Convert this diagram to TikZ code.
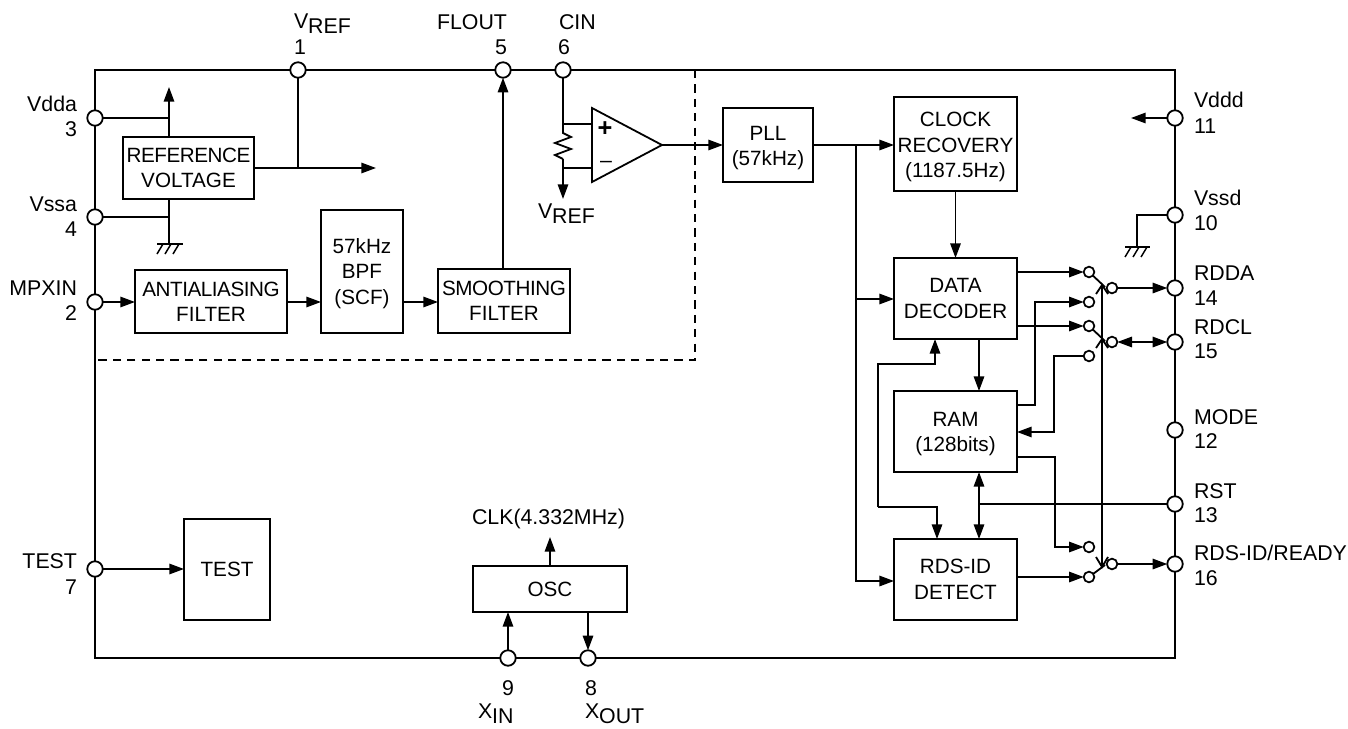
\documentclass[tikz,border=0pt]{standalone}
\usepackage{fontspec}
\setmainfont{Liberation Sans}
\usetikzlibrary{arrows.meta}
\newcommand{\lowered}[1]{\raisebox{-3.9pt}{#1}}
\newcommand{\tight}[1]{{\addfontfeature{LetterSpace=-2.2}#1}}
\newcommand{\lift}[1]{\rule{0pt}{#1}}
\tikzset{
  x=0.75pt,y=-0.75pt,
  every node/.style={font=\fontsize{16}{19}\selectfont,inner sep=0pt,outer sep=0pt},
  wire/.style={line width=1.35pt,line join=miter},
  to/.style={wire,-{Triangle[length=11pt,width=7.8pt]}},
  tofro/.style={wire,{Triangle[length=11pt,width=7.8pt]}-{Triangle[length=11pt,width=7.8pt]}},
  blk/.style={draw,line width=1.5pt,align=center,font=\fontsize{15.5}{19}\selectfont},
  pin/.style={circle,draw,fill=white,line width=1.35pt,minimum size=11.6pt},
  contact/.style={circle,draw,fill=white,line width=1.3pt,minimum size=8pt},
  lblw/.style={anchor=base west},
  lble/.style={anchor=base east},
}
\newcommand{\bx}[6]{\node[blk,minimum width={(#4-#2)*0.75pt},minimum height={(#5-#3)*0.75pt}] (#1) at ({(#2+#4)/2},{(#3+#5)/2}) {#6};}
\begin{document}
\begin{tikzpicture}
\useasboundingbox (0,0) rectangle (1348,728);
% frame
\bx{frame}{95}{70}{1175}{658}{}
% dashed region
\coordinate (dtop) at (695,70);
\coordinate (dcorner) at (695,360);
\coordinate (dleft) at (95,360);
\draw[line width=1.5pt,dash pattern=on 6.2pt off 4.6pt] (dtop) -- (dcorner) -- (dleft);
% blocks
\bx{ref}{123}{137}{254}{199}{\tight{REFERENCE}\\VOLTAGE}
\bx{anti}{135}{270}{287}{333}{\tight{ANTIALIASING}\\FILTER}
\bx{bpf}{321}{210}{403}{333}{\lift{14.1pt}57kHz\\BPF\\(SCF)}
\bx{smooth}{438}{269}{570}{333}{\tight{SMOOTHING}\\FILTER}
\bx{pll}{723}{108}{813}{182}{\lift{15.6pt}PLL\\(57kHz)}
\bx{clock}{894}{97}{1017}{191}{\lift{15.6pt}CLOCK\\RECOVERY\\(1187.5Hz)}
\bx{dec}{894}{258}{1017}{339}{DATA\\DECODER}
\bx{ram}{894}{391}{1017}{472}{\lift{14.1pt}RAM\\(128bits)}
\bx{rds}{894}{539}{1017}{620}{RDS-ID\\DETECT}
\bx{test}{184}{519}{270}{620}{TEST}
\bx{osc}{473}{566}{627}{612}{OSC}
% pins
\node[pin] (p1) at (298,70) {};
\node[pin] (p5) at (503,70) {};
\node[pin] (p6) at (563,70) {};
\node[pin] (p3) at (95,118) {};
\node[pin] (p4) at (95,217) {};
\node[pin] (p2) at (95,302) {};
\node[pin] (p7) at (95,569) {};
\node[pin] (p9) at (508,658) {};
\node[pin] (p8) at (588,658) {};
\node[pin] (p11) at (1175,118) {};
\node[pin] (p10) at (1175,215) {};
\node[pin] (p14) at (1175,288) {};
\node[pin] (p15) at (1175,342) {};
\node[pin] (p12) at (1175,430) {};
\node[pin] (p13) at (1175,504) {};
\node[pin] (p16) at (1175,564) {};
% switch contacts
\node[contact] (c1) at (1089,272) {};
\node[contact] (c2) at (1089,302) {};
\node[contact] (c3) at (1089,326) {};
\node[contact] (c4) at (1089,356) {};
\node[contact] (c5) at (1089,547) {};
\node[contact] (c6) at (1089,577) {};
\node[contact] (s1) at (1112,288) {};
\node[contact] (s2) at (1112,342) {};
\node[contact] (s3) at (1112,564) {};
% left analog connectors
\coordinate (vup) at (169,87);
\coordinate (gnd1) at (169,244);
\coordinate (refout) at (376,168);
\draw[to] (ref.north -| vup) -- (vup);
\draw[wire] (p3) -- (vup |- p3);
\draw[wire] (ref.south -| gnd1) -- (gnd1);
\draw[wire] (p4) -- (gnd1 |- p4);
\draw[wire] (157,244) -- (183,244);
\draw[wire,line width=1.1pt] (163,244) -- (157,254) (171,244) -- (165,254) (179,244) -- (173,254);
\draw[to] (ref.east |- refout) -- (refout);
\draw[wire] (p1) -- (p1 |- refout);
\draw[to] (p2) -- (anti.west |- p2);
\draw[to] (anti.east |- 0,302) -- (bpf.west |- 0,302);
\draw[to] (bpf.east |- 0,302) -- (smooth.west |- 0,302);
\draw[to] (smooth.north -| p5) -- (p5);
% op amp
\coordinate (oa) at (592,108);
\coordinate (ob) at (592,182);
\coordinate (oc) at (662,145);
\coordinate (vrefin) at (563,199);
\draw[wire] (oa) -- (ob) -- (oc) -- cycle;
\draw[wire] (p6) -- (563,133) -- (571,137) -- (555,143) -- (571,149) -- (555,155) -- (563,159);
\draw[to] (563,159) -- (vrefin);
\draw[wire] (563,124) -- (oa |- 0,124);
\draw[wire] (563,168) -- (oa |- 0,168);
\node[font=\fontsize{19}{19}\selectfont\bfseries] (plus) at (605,129) {+};
\node[font=\fontsize{16}{19}\selectfont] (minus) at (606,164) {–};
\draw[to] (oc) -- (pll.west |- oc);
% digital connectors
\draw[to] (pll.east |- oc) -- (clock.west |- oc);
\draw[to] (856,145) -- (856,299) -- (dec.west |- 0,299);
\draw[to] (856,299) -- (856,581) -- (rds.west |- 0,581);
\draw[to] (clock.south) -- (dec.north);
\draw[to] (979,339) -- (979,391);
\draw[tofro] (979,472) -- (979,539);
\draw[wire] (p13) -- (979,504);
\draw[to] (878,507) -- (937,507) -- (937,539);
\draw[to] (878,507) -- (878,364) -- (935,364) -- (935,339);
\draw[to] (dec.east |- c1) -- (c1);
\draw[to] (dec.east |- c3) -- (c3);
\draw[to] (ram.east |- 0,405) -- (1035,405) -- (1035,302) -- (c2);
\draw[to] (c4) -- (1054,356) -- (1054,432) -- (ram.east |- 0,432);
\draw[to] (ram.east |- 0,457) -- (1055,457) -- (1055,547) -- (c5);
\draw[to] (rds.east |- c6) -- (c6);
\draw[to] (s1) -- (p14);
\draw[tofro] (s2) -- (p15);
\draw[to] (s3) -- (p16);
\draw[to] (p11) -- (1131,118);
\draw[wire] (p10) -- (1137,215) -- (1137,247);
\draw[wire] (1125,247) -- (1150,247);
\draw[wire,line width=1.1pt] (1131,247) -- (1125,257) (1139,247) -- (1133,257) (1147,247) -- (1141,257);
\draw[to] (p7) -- (test.west |- p7);
\draw[to] (p9) -- (osc.south -| p9);
\draw[to] (osc.south -| p8) -- (p8);
\draw[to] (osc.north -| 550,0) -- (550,537);
% switches
\draw[wire] (c1) -- (1105,287);
\draw[wire] (c3) -- (1105,341);
\draw[wire] (c6) -- (1105,565);
\draw[wire] (1102,285) -- (1102,567);
\draw[wire] (1096,294) -- (1102,285) -- (1108,294);
\draw[wire] (1096,348) -- (1102,339) -- (1108,348);
\draw[wire] (1096,557) -- (1102,567) -- (1108,557);
% labels
\node[lblw] (lv1) at (294,28) {V\lowered{REF}};
\node[lblw] (l1) at (294,54) {1};
\node[lble] (lf) at (507,29) {FLOUT};
\node[lble] (l5) at (507,54) {5};
\node[lblw] (lc) at (559,29) {CIN};
\node[lblw] (l6) at (558,54) {6};
\node[lblw] (lv2) at (538,218) {V\lowered{REF}};
\node[lble] (lvdda) at (77,111) {Vdda};
\node[lble] (l3) at (77,136) {3};
\node[lble] (lvssa) at (77,211) {Vssa};
\node[lble] (l4) at (77,236) {4};
\node[lble] (lmpx) at (77,295) {MPXIN};
\node[lble] (l2) at (77,320) {2};
\node[lble] (ltest) at (77,568) {TEST};
\node[lble] (l7) at (77,594) {7};
\node[lblw] (l9) at (502,695) {9};
\node[lblw] (l8) at (585,695) {8};
\node[lblw] (lxin) at (478,718) {X\lowered{IN}};
\node[lblw] (lxout) at (585,718) {X\lowered{OUT}};
\node[lblw] (lclk) at (472,524) {CLK(4.332MHz)};
\node[lblw] (lvddd) at (1194,107) {Vddd};
\node[lblw] (l11) at (1194,133) {11};
\node[lblw] (lvssd) at (1194,205) {Vssd};
\node[lblw] (l10) at (1194,230) {10};
\node[lblw] (lrdda) at (1194,280) {RDDA};
\node[lblw] (l14) at (1194,305) {14};
\node[lblw] (lrdcl) at (1194,334) {RDCL};
\node[lblw] (l15) at (1194,358) {15};
\node[lblw] (lmode) at (1194,424) {MODE};
\node[lblw] (l12) at (1194,448) {12};
\node[lblw] (lrst) at (1194,498) {RST};
\node[lblw] (l13) at (1194,522) {13};
\node[lblw] (lrds) at (1194,560) {RDS-ID/READY};
\node[lblw] (l16) at (1194,585) {16};
\end{tikzpicture}
\end{document}
